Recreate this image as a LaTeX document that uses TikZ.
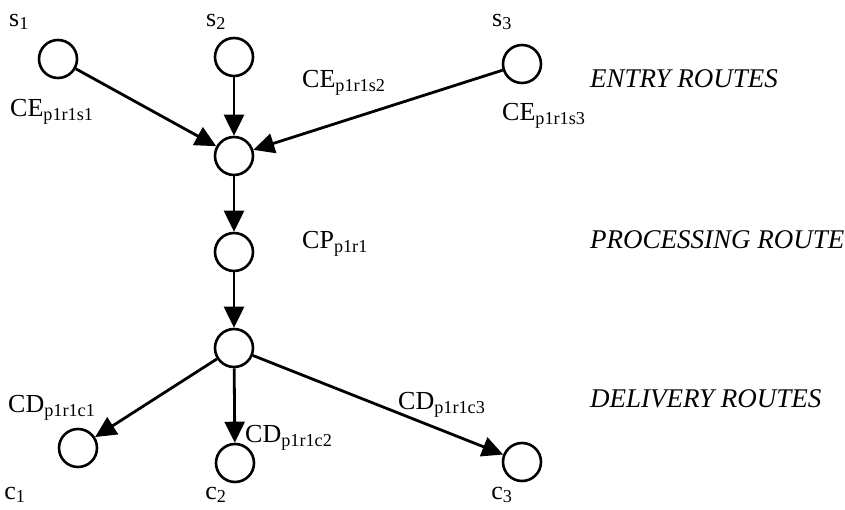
\documentclass[tikz,border=0pt]{standalone}
\usepackage{fontspec}
\setmainfont{Liberation Serif}
\usetikzlibrary{arrows.meta}
\begin{document}
\begin{tikzpicture}[x=1pt,y=-1pt,
  st/.style={circle,draw,line width=2.6pt,minimum size=38pt,inner sep=0pt},
  arr/.style={line width=2.8pt,-{Triangle[length=21pt,width=20pt]}},
  lbl/.style={inner sep=0pt,font=\fontsize{26}{30}\selectfont},
  rt/.style={inner sep=0pt,anchor=west,font=\fontsize{27}{31}\selectfont\itshape}]
\useasboundingbox (0,0) rectangle (845,510);
\node[st] (s1) at (58,59) {};
\node[st] (s2) at (234,57) {};
\node[st] (s3) at (522,64) {};
\node[st] (m) at (234,156) {};
\node[st] (p) at (234,252) {};
\node[st] (h) at (234,348) {};
\node[st] (c1) at (78,448) {};
\node[st] (c2) at (235,463) {};
\node[st] (c3) at (522,462) {};
\draw[arr] (s1) -- (m);
\draw[arr] (s2) -- (m);
\draw[arr] (s3) -- (m);
\draw[arr] (m) -- (p);
\draw[arr] (p) -- (h);
\draw[arr] (h) -- (c1);
\draw[arr] (h) -- (c2);
\draw[arr] (h) -- (c3);
\node[lbl] (ls1) at (19,22) {s\textsubscript{1}};
\node[lbl] (ls2) at (216,22) {s\textsubscript{2}};
\node[lbl] (ls3) at (502,22) {s\textsubscript{3}};
\node[lbl,anchor=west] (e1) at (10,112) {CE\textsubscript{p1r1s1}};
\node[lbl,anchor=west] (e2) at (302,83) {CE\textsubscript{p1r1s2}};
\node[lbl,anchor=west] (e3) at (502,116) {CE\textsubscript{p1r1s3}};
\node[lbl,anchor=west] (cp) at (302,244) {CP\textsubscript{p1r1}};
\node[lbl,anchor=west] (d1) at (8,408) {CD\textsubscript{p1r1c1}};
\node[lbl,anchor=west] (d2) at (245,438) {CD\textsubscript{p1r1c2}};
\node[lbl,anchor=west] (d3) at (398,405) {CD\textsubscript{p1r1c3}};
\node[lbl] (lc1) at (15,495) {c\textsubscript{1}};
\node[lbl] (lc2) at (216,495) {c\textsubscript{2}};
\node[lbl] (lc3) at (502,495) {c\textsubscript{3}};
\node[rt] (r1) at (590,79) {ENTRY ROUTES};
\node[rt] (r2) at (590,240) {PROCESSING ROUTE};
\node[rt] (r3) at (590,399) {DELIVERY ROUTES};
\end{tikzpicture}
\end{document}
